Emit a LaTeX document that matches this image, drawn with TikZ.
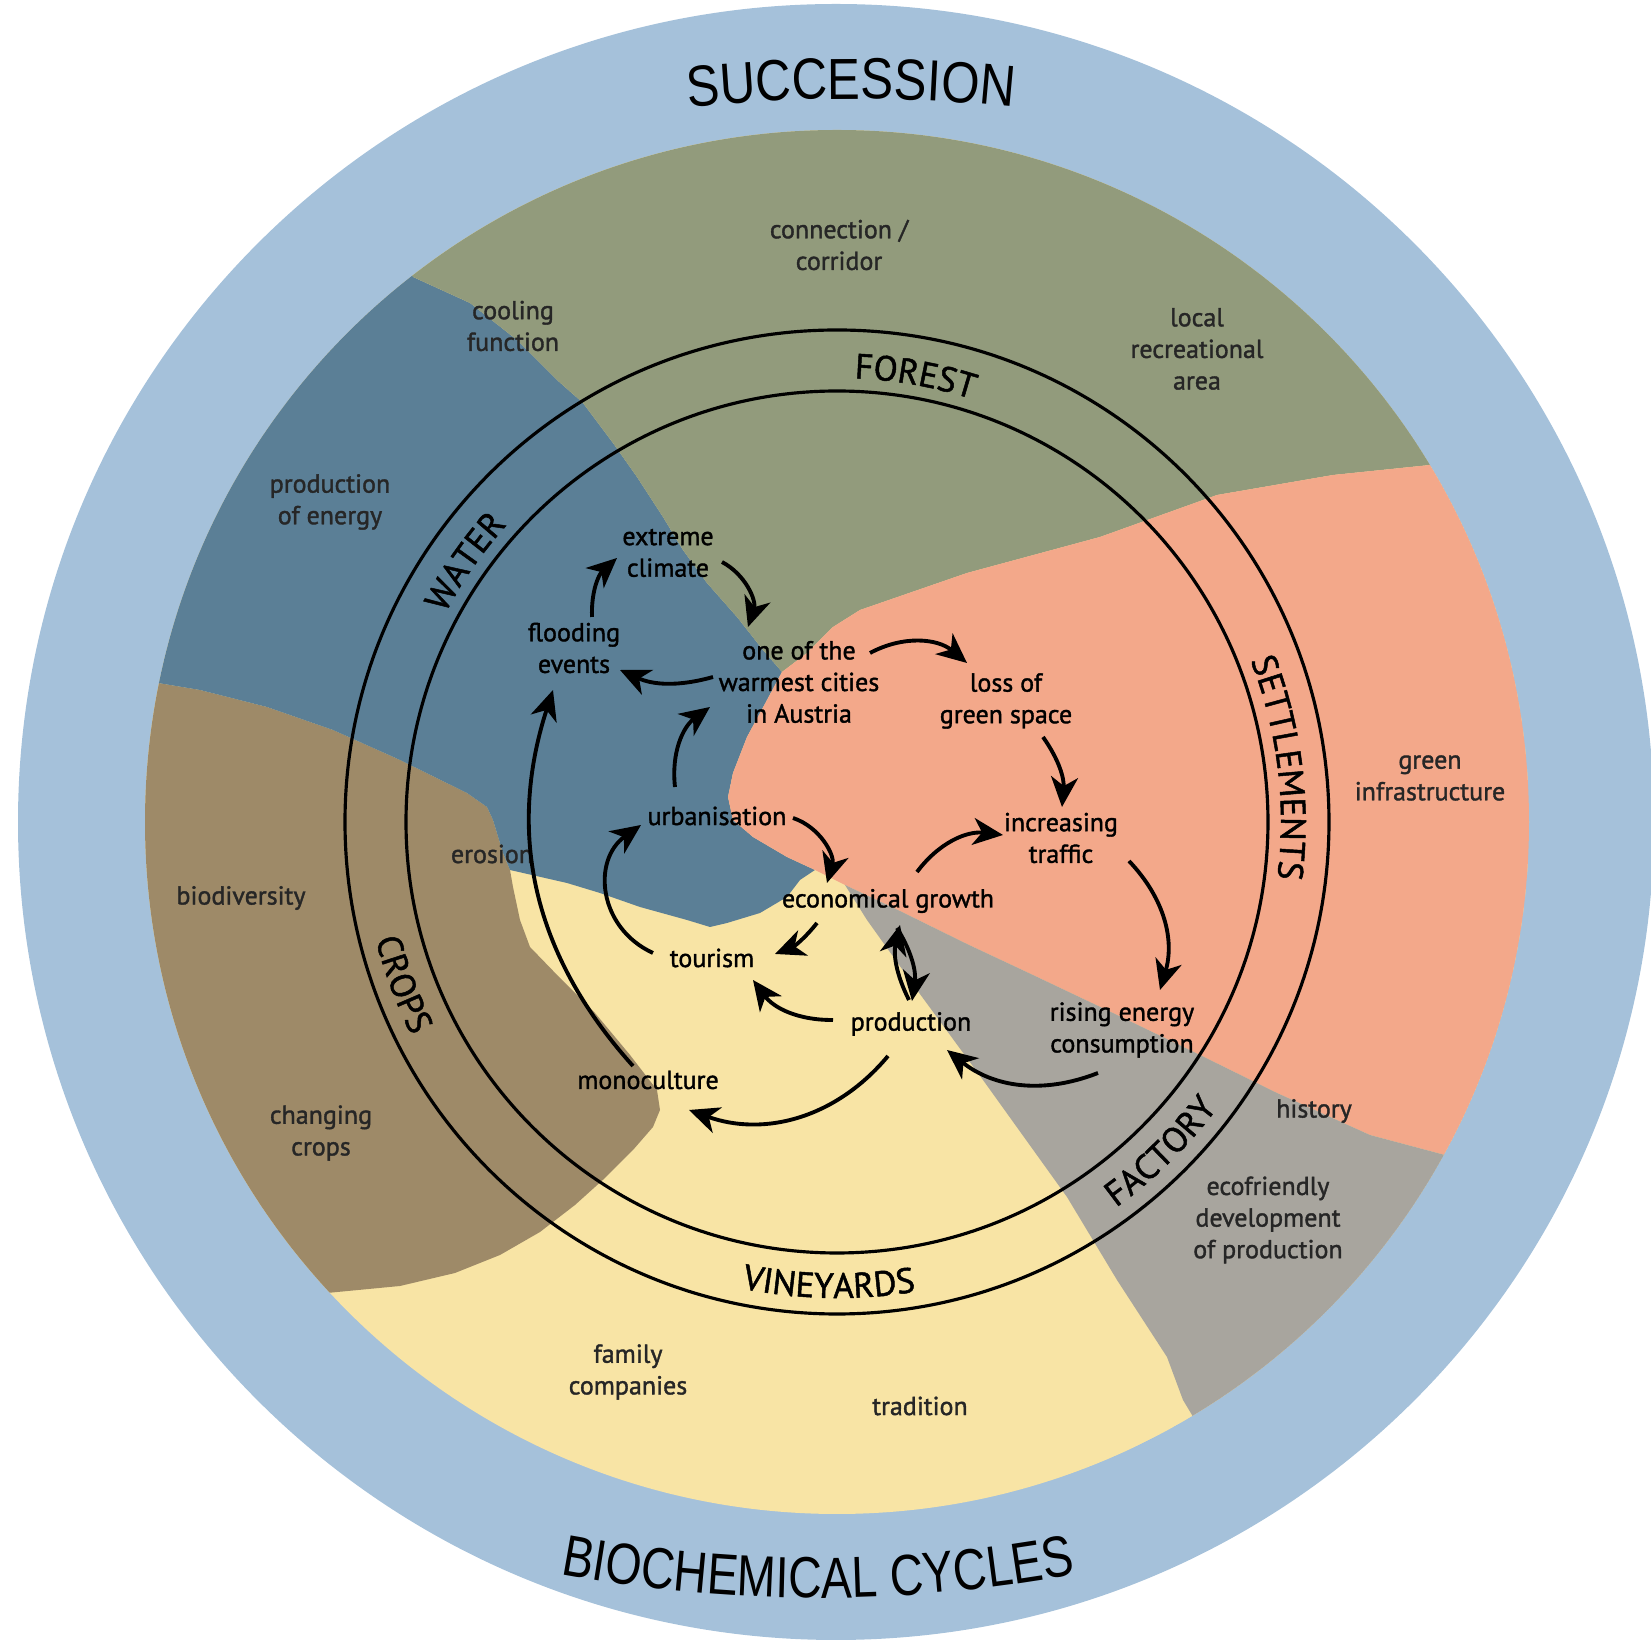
\documentclass[tikz,border=0pt]{standalone}
\usepackage{fontspec}
\setmainfont{PT Sans}[FakeBold=1.4]
\newfontfamily\bigfont[FakeStretch=0.85]{Liberation Sans}
\newfontfamily\bigfontb[FakeStretch=0.80]{Liberation Sans}
\usetikzlibrary{arrows.meta,decorations.text}
\definecolor{ringblue}{HTML}{A5C1DA}
\definecolor{forestgreen}{HTML}{929B7C}
\definecolor{waterblue}{HTML}{5B7F96}
\definecolor{settlesalmon}{HTML}{F3A88A}
\definecolor{cropbrown}{HTML}{9E8A68}
\definecolor{vineyellow}{HTML}{F8E4A5}
\definecolor{factorygray}{HTML}{A8A59E}
\newcommand\bigtxt{\bigfont\fontsize{16.5}{20}\selectfont}
\newcommand\bigtxtb{\bigfontb\fontsize{16.5}{20}\selectfont}
\newcommand\ringtxt{\fontsize{10}{12}\selectfont}
\begin{document}
\begin{tikzpicture}[x=0.1mm,y=0.1mm]
\tikzset{
  lbl/.style={align=center, font=\fontsize{7.4}{9}\selectfont, text=black!85, inner sep=1pt},
  cyc/.style={lbl, text=black},
  arr/.style={-{Stealth[length=3mm,width=2.7mm,inset=0.9mm]}, line width=1.1pt},
  ringline/.style={line width=0.9pt},
  curved/.style 2 args={decorate, decoration={text along path, text align=center, text={|#1|#2}}}
}
\useasboundingbox (0,0) rectangle (1651,-1642);
\clip (0,0) rectangle (1651,-1642);
\coordinate (C) at (837,-822);
\fill[ringblue] (836,-822) circle[radius=818];
\begin{scope}
\clip (C) circle[radius=692];
\fill[vineyellow] (C) circle[radius=692];
\fill[cropbrown] (60,-680) -- (158,-683) -- (200,-690) -- (267,-707) -- (333,-730) -- (400,-760) -- (467,-793) -- (487,-807) -- (493,-820) -- (503,-853) -- (510,-870) -- (513,-887) -- (520,-920) -- (530,-947) -- (560,-978) -- (595,-1013) -- (630,-1055) -- (657,-1090) -- (660,-1110) -- (653,-1127) -- (633,-1150) -- (605,-1178) -- (575,-1205) -- (540,-1232) -- (500,-1255) -- (455,-1273) -- (400,-1286) -- (327,-1293) -- (280,-1300) -- (60,-1300) -- cycle;
\fill[waterblue] (380,-200) -- (413,-277) -- (470,-303) -- (517,-340) -- (557,-380) -- (583,-403) -- (613,-443) -- (637,-477) -- (663,-517) -- (683,-550) -- (707,-583) -- (737,-617) -- (763,-650) -- (782,-672) -- (767,-700) -- (747,-737) -- (733,-773) -- (728,-797) -- (733,-820) -- (753,-837) -- (787,-857) -- (815,-870) -- (800,-880) -- (787,-897) -- (760,-913) -- (727,-923) -- (710,-927) -- (687,-920) -- (640,-907) -- (600,-893) -- (567,-883) -- (510,-870) -- (503,-853) -- (493,-820) -- (487,-807) -- (467,-793) -- (400,-760) -- (333,-730) -- (267,-707) -- (200,-690) -- (158,-683) -- (60,-680) -- (60,-200) -- cycle;
\fill[forestgreen] (380,-100) -- (380,-200) -- (413,-277) -- (470,-303) -- (517,-340) -- (557,-380) -- (583,-403) -- (613,-443) -- (637,-477) -- (663,-517) -- (683,-550) -- (707,-583) -- (737,-617) -- (763,-650) -- (782,-672) -- (807,-653) -- (833,-627) -- (860,-610) -- (967,-573) -- (1100,-537) -- (1217,-495) -- (1333,-475) -- (1430,-465) -- (1500,-455) -- (1500,-100) -- cycle;
\fill[settlesalmon] (1500,-455) -- (1430,-465) -- (1333,-475) -- (1217,-495) -- (1100,-537) -- (967,-573) -- (860,-610) -- (833,-627) -- (807,-653) -- (782,-672) -- (767,-700) -- (747,-737) -- (733,-773) -- (728,-797) -- (733,-820) -- (753,-837) -- (787,-857) -- (815,-870) -- (845,-885) -- (900,-911) -- (967,-944) -- (1033,-975) -- (1113,-1013) -- (1200,-1055) -- (1277,-1093) -- (1370,-1135) -- (1445,-1155) -- (1560,-1190) -- (1560,-455) -- cycle;
\fill[factorygray] (845,-885) -- (900,-911) -- (967,-944) -- (1033,-975) -- (1113,-1013) -- (1200,-1055) -- (1277,-1093) -- (1370,-1135) -- (1445,-1155) -- (1560,-1190) -- (1560,-1500) -- (1215,-1480) -- (1192,-1415) -- (1183,-1400) -- (1167,-1357) -- (1117,-1280) -- (1067,-1197) -- (983,-1080) -- (917,-990) -- (867,-920) -- cycle;
\end{scope}
\draw[ringline] (C) circle[radius=492] (C) circle[radius=431];
\path[curved={\bigtxt}{SUCCESSION}] (851,-1699) ++(99:1600) arc[start angle=99, end angle=81, radius=1600];
\path[curved={\bigtxtb}{BIOCHEMICAL CYCLES}] (818,-198) ++(-104:1400) arc[start angle=-104, end angle=-76, radius=1400];
\path[curved={\ringtxt}{FOREST}] (C) ++(105:444) arc[start angle=105, end angle=55, radius=444];
\path[curved={\ringtxt}{WATER}] (C) ++(167:444) arc[start angle=167, end angle=123, radius=444];
\path[curved={\ringtxt}{SETTLEMENTS}] (C) ++(40:444) arc[start angle=40, end angle=-26, radius=444];
\path[curved={\ringtxt}{FACTORY}] (C) ++(-70:476) arc[start angle=-70, end angle=-21, radius=476];
\path[curved={\ringtxt}{VINEYARDS}] (C) ++(-121:476) arc[start angle=-121, end angle=-61, radius=476];
\path[curved={\ringtxt}{CROPS}] (C) ++(180:476) arc[start angle=180, end angle=221, radius=476];
\foreach \p/\n/\t in {(839,-245)/conn/{connection /\\corridor}, (1197,-349)/recr/{local\\recreational\\area},
  (513,-326)/cool/{cooling\\function}, (330,-502)/enprod/{production\\of energy}, (241,-898)/biodiv/{biodiversity},
  (492,-854)/eros/{erosion}, (321,-1133)/chcrops/{changing\\crops}, (628,-1372)/family/{family\\companies},
  (920,-1406)/trad/{tradition}, (1268,-1220)/eco/{ecofriendly\\development\\of production},
  (1314,-1111)/hist/{history}, (1430,-778)/greeninf/{green\\infrastructure}}
{
  \node[lbl] (\n) at \p {\t};
}
\node[cyc] (extreme) at (668,-553) {extreme\\climate};
\node[cyc] (flood) at (574,-648) {flooding\\events};
\node[cyc] (warm) at (799,-682) {one of the\\warmest cities\\in Austria};
\node[cyc] (loss) at (1006,-701) {loss of\\green space};
\node[cyc] (urban) at (717,-816) {urbanisation};
\node[cyc] (traffic) at (1061,-838) {increasing\\traffic};
\node[cyc] (econ) at (888,-901) {economical growth};
\node[cyc] (tour) at (712,-958) {tourism};
\node[cyc] (prod) at (911,-1024) {production};
\node[cyc] (energy) at (1122,-1030) {rising energy\\consumption};
\node[cyc] (mono) at (648,-1080) {monoculture};
\draw[arr] ([shift={(18,31)}]flood.center) to[bend left=25] ([shift={(-51,-5)}]extreme.center);
\draw[arr] ([shift={(54,-9)}]extreme.center) to[bend left=40] ([shift={(-51,55)}]warm.center);
\draw[arr] ([shift={(71,29)}]warm.center) to[bend left=34] ([shift={(-39,38)}]loss.center);
\draw[arr] ([shift={(37,-36)}]loss.center) to[bend left=20] ([shift={(1,31)}]traffic.center);
\draw[arr] ([shift={(29,29)}]econ.center) to[bend left=30] ([shift={(-58,3)}]traffic.center);
\draw[arr] ([shift={(68,-23)}]traffic.center) to[bend left=30] ([shift={(38,40)}]energy.center);
\draw[arr] ([shift={(-24,-43)}]energy.center) to[bend left=30] ([shift={(36,-26)}]prod.center);
\draw[arr] ([shift={(-2,24)}]prod.center) to[bend left=20] ([shift={(12,-24)}]econ.center);
\draw[arr] ([shift={(9,-27)}]econ.center) to[bend left=20] ([shift={(1,23)}]prod.center);
\draw[arr] ([shift={(-71,-22)}]econ.center) to[bend left=15] ([shift={(63,4)}]tour.center);
\draw[arr] ([shift={(76,-2)}]urban.center) to[bend left=44] ([shift={(-61,18)}]econ.center);
\draw[arr] ([shift={(-42,29)}]urban.center) to[bend left=30] ([shift={(-89,-25)}]warm.center);
\draw[arr] ([shift={(-86,5)}]warm.center) to[bend left=20] ([shift={(46,-22)}]flood.center);
\draw[arr] ([shift={(-59,5)}]tour.center) to[bend left=60, looseness=1.2] ([shift={(-76,-9)}]urban.center);
\draw[arr] ([shift={(-78,4)}]prod.center) to[bend left=27] ([shift={(41,-22)}]tour.center);
\draw[arr] ([shift={(-23,-32)}]prod.center) to[bend left=35] ([shift={(41,-30)}]mono.center);
\draw[arr] ([shift={(-15,14)}]mono.center) to[bend left=30] ([shift={(-21,-42)}]flood.center);
\end{tikzpicture}
\end{document}
